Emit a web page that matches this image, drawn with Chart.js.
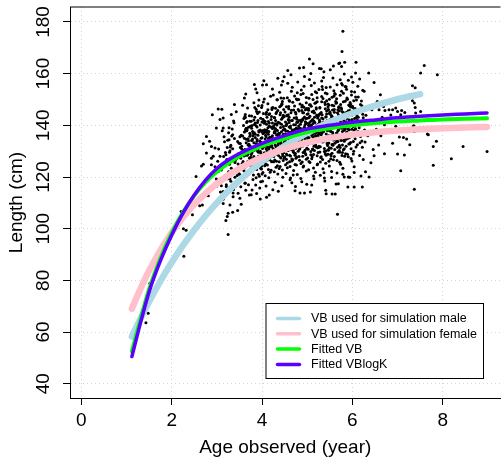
<!DOCTYPE html>
<html>
<head>
<meta charset="utf-8">
<script src="https://cdn.jsdelivr.net/npm/chart.js@4"></script>
<style>
  html, body { margin: 0; padding: 0; background: #fff; overflow: hidden; }
  canvas { display: block; }
</style>
</head>
<body>
<canvas id="growth" width="502" height="459"></canvas>
<script>
// Axis ticks
const xTicks = [0, 2, 4, 6, 8];
const yTicks = [40, 60, 80, 100, 120, 140, 160, 180];

// Growth curves, length (cm) at each age (years)
const curveAges = [1.12, 1.25, 1.5, 1.75, 2, 2.25, 2.5, 2.75, 3, 3.25, 3.5, 4, 4.5, 5, 5.5, 6, 6.5, 7, 7.5, 8, 8.5, 8.98];
const vbMale = [58.2, 63.0, 71.7, 79.7, 86.9, 93.5, 99.5, 105.0, 110.0, 114.6, 118.7, 126.0, 132.0, 137.1, 141.3, 144.7, 147.6, 150.1, 152.1, null, null, null];
const vbFemale = [69.0, 74.4, 83.7, 91.6, 98.5, 104.3, 109.4, 113.7, 117.4, 120.6, 123.3, 127.7, 130.9, 133.3, 135.1, 136.4, 137.3, 138.0, 138.5, 138.9, 139.2, 139.4];
const fittedVB = [52.5, 61.0, 76.5, 88.5, 98.3, 106.3, 112.8, 118.0, 122.0, 125.3, 128.0, 132.0, 134.9, 137.4, 138.9, 140.0, 140.9, 141.5, 141.9, 142.3, 142.5, 142.7];
const fittedVBlogK = [50.5, 59.5, 75.5, 87.5, 97.5, 106.0, 113.0, 118.8, 123.3, 126.6, 129.1, 133.0, 136.0, 138.6, 140.0, 141.2, 142.1, 142.9, 143.5, 144.0, 144.4, 144.8];

const seriesNames = ['VB used for simulation male', 'VB used for simulation female', 'Fitted VB', 'Fitted VBlogK'];

// Observed fish: [age (year), length (cm)]
const observed = [
[1.43,63.6],[1.48,67.3],[1.52,78.9],
[2.21,106.6],[2.27,89.3],[2.26,100.0],[2.32,99.4],[2.46,105.4],[2.51,99.3],[2.62,108.9],[2.68,109.2],[2.54,120.2],[2.66,124.3],[2.70,132.9],[2.84,133.8],[2.77,135.7],[2.77,129.3],[2.70,124.9],[2.88,124.7],[2.92,128.0],[2.96,131.2],[2.99,119.2],[2.81,112.7],[2.99,116.3],[2.88,127.3],[2.90,144.1],[2.99,139.0],[2.88,131.8],[2.96,124.0],
[3.03,146.3],[3.14,139.0],[3.14,142.8],[3.07,128.0],[3.10,116.6],[3.10,111.2],[3.14,111.4],[3.21,113.1],[3.25,106.0],[3.23,104.7],[3.25,97.7],[3.20,103.2],[3.35,106.4],[3.29,109.2],[3.51,111.8],[3.21,117.0],[3.14,114.4],[3.36,113.8],[3.62,117.6],[3.76,113.1],[3.95,115.7],[4.10,112.2],
[3.03,122.1],[3.17,133.6],[3.08,114.2],[3.22,126.8],[3.12,137.9],[3.01,118.4],[3.19,129.5],[3.06,124.3],[3.14,109.7],[3.24,134.2],[3.10,122.7],[3.04,130.8],[3.21,116.3],[3.15,127.9],[3.07,142.3],[3.18,120.6],[3.02,126.1],[3.13,112.5],[3.23,131.4],[3.09,123.5],[3.16,135.6],[3.05,117.8],[3.20,128.6],[3.11,146.2],[3.24,119.3],
[3.47,125.0],[3.33,135.9],[3.42,116.5],[3.28,129.6],[3.38,141.0],[3.49,121.3],[3.31,132.3],[3.44,127.2],[3.36,112.4],[3.26,137.1],[3.40,125.6],[3.46,133.7],[3.29,119.2],[3.35,130.9],[3.43,145.3],[3.32,123.4],[3.48,129.0],[3.37,115.2],[3.27,134.4],[3.41,126.4],[3.34,138.6],[3.45,120.6],[3.30,131.6],[3.39,148.1],[3.26,122.0],
[3.49,133.1],[3.31,118.4],[3.45,128.3],[3.37,141.7],[3.28,124.9],[3.42,127.8],[3.35,136.4],[3.47,113.7],[3.29,130.2],[3.39,134.9],[3.44,122.7],[3.32,144.2],[3.40,119.9],[3.27,139.1],[3.46,107.0],
[3.53,127.3],[3.67,138.3],[3.58,119.1],[3.72,132.1],[3.62,143.4],[3.51,123.8],[3.69,134.8],[3.56,129.7],[3.64,114.9],[3.74,139.6],[3.60,128.1],[3.54,136.2],[3.71,121.6],[3.65,133.3],[3.57,147.8],[3.68,125.9],[3.52,131.4],[3.63,117.7],[3.73,136.9],[3.59,128.8],[3.66,141.1],[3.55,123.2],[3.70,134.0],[3.61,150.6],[3.74,124.5],
[3.51,135.6],[3.69,120.9],[3.55,130.8],[3.63,144.2],[3.72,127.4],[3.58,130.3],[3.65,138.9],[3.53,116.2],[3.71,132.7],[3.61,137.4],[3.56,125.2],[3.68,146.7],[3.60,122.4],[3.73,141.6],[3.54,109.5],
[3.52,133.0],[3.66,124.4],[3.59,139.9],[3.70,117.0],[3.62,130.6],[3.57,135.9],[3.74,126.7],[3.64,152.1],[3.50,121.1],[3.67,128.4],[3.60,142.6],[3.55,131.9],[3.72,113.0],[3.63,137.8],[3.58,126.0],
[3.97,129.3],[3.83,140.3],[3.92,121.1],[3.78,134.1],[3.88,145.4],[3.99,125.8],[3.81,136.8],[3.94,131.7],[3.86,116.9],[3.76,141.6],[3.90,130.1],[3.96,138.2],[3.79,123.6],[3.85,135.3],[3.93,149.8],[3.82,127.9],[3.98,133.4],[3.87,119.7],[3.77,138.9],[3.91,130.8],[3.84,143.1],[3.95,125.2],[3.80,136.0],[3.89,152.6],[3.76,126.5],
[3.99,137.6],[3.81,122.9],[3.95,132.8],[3.87,146.2],[3.78,129.4],[3.92,132.3],[3.85,140.9],[3.97,118.2],[3.79,134.7],[3.89,139.4],[3.94,127.2],[3.82,148.7],[3.90,124.4],[3.77,143.6],[3.96,111.5],
[3.98,135.0],[3.84,126.4],[3.91,141.9],[3.80,119.0],[3.88,132.6],[3.93,137.9],[3.76,128.7],[3.86,154.1],[3.99,123.1],[3.83,130.4],[3.90,144.6],[3.95,133.9],[3.78,115.0],[3.87,139.8],[3.92,128.0],
[3.99,146.9],[3.81,131.2],[3.94,120.3],[3.85,136.5],[3.97,142.7],[3.79,127.0],[3.89,134.5],[3.83,155.8],[3.96,130.0],[3.88,113.6],
[4.15,130.8],[4.04,141.8],[4.20,122.6],[4.09,135.6],[4.24,146.9],[4.13,127.3],[4.06,138.3],[4.18,133.2],[4.01,118.4],[4.11,143.1],[4.22,131.6],[4.16,139.7],[4.08,125.1],[4.02,136.8],[4.19,151.3],[4.05,129.4],[4.14,134.9],[4.00,121.2],[4.10,140.4],[4.21,132.3],[4.03,144.6],[4.17,126.7],[4.07,137.5],[4.23,154.1],[4.11,128.0],
[4.13,139.1],[4.06,124.4],[4.17,134.3],[4.00,147.7],[4.09,130.9],[4.20,133.8],[4.02,142.4],[4.15,119.7],[4.08,136.2],[4.23,140.9],[4.18,128.7],[4.05,150.2],[4.22,125.9],[4.10,145.1],[4.16,113.0],
[4.14,136.5],[4.03,127.9],[4.21,143.4],[4.07,120.5],[4.24,134.1],[4.19,139.4],[4.11,130.2],[4.01,155.6],[4.12,124.6],[4.04,131.9],[4.22,146.1],[4.17,135.4],[4.09,116.5],[4.00,141.3],[4.20,129.5],
[4.13,148.4],[4.06,132.7],[4.18,121.8],[4.02,138.0],[4.15,144.2],[4.08,128.5],[4.23,136.0],[4.04,157.3],[4.16,131.5],[4.24,115.1],[4.10,137.2],[4.21,126.0],[4.03,149.0],[4.14,122.9],[4.07,141.5],
[4.35,132.3],[4.49,143.3],[4.40,124.1],[4.29,137.1],[4.44,148.4],[4.33,128.8],[4.26,139.8],[4.38,134.7],[4.46,119.9],[4.31,144.6],[4.42,133.1],[4.36,141.2],[4.28,126.6],[4.47,138.3],[4.39,152.8],[4.25,130.9],[4.34,136.4],[4.45,122.7],[4.30,141.9],[4.41,133.8],[4.48,146.1],[4.37,128.2],[4.27,139.0],[4.43,155.6],[4.31,129.5],
[4.33,140.6],[4.26,125.9],[4.37,135.8],[4.45,149.2],[4.29,132.4],[4.40,135.3],[4.47,143.9],[4.35,121.2],[4.28,137.7],[4.43,142.4],[4.38,130.2],[4.25,151.7],[4.42,127.4],[4.30,146.6],[4.36,114.5],
[4.34,138.0],[4.48,129.4],[4.41,144.9],[4.27,122.0],[4.44,135.6],[4.39,140.9],[4.31,131.7],[4.46,157.1],[4.32,126.1],[4.49,133.4],[4.42,147.6],[4.37,136.9],[4.29,118.0],[4.45,142.8],[4.40,131.0],
[4.33,149.9],[4.26,134.2],[4.38,123.3],[4.47,139.5],[4.35,145.7],[4.28,130.0],[4.43,137.5],[4.49,158.8],[4.36,133.0],[4.44,116.6],[4.30,138.7],[4.41,127.5],[4.48,150.5],[4.34,124.4],[4.27,143.0],[4.46,128.3],[4.39,147.2],
[4.52,141.3],[4.61,128.4],[4.73,136.9],[4.56,150.7],[4.67,131.2],[4.50,138.6],[4.70,122.5],[4.58,144.1],[4.64,135.0],[4.54,126.9],[4.72,147.5],[4.60,133.6],[4.66,117.8],[4.53,139.9],[4.69,129.8],[4.57,156.3],[4.74,134.4],[4.62,124.1],[4.51,145.2],[4.68,137.7],[4.55,130.5],[4.71,142.8],[4.63,119.6],[4.59,136.1],[4.65,153.2],
[4.50,127.7],[4.74,140.2],[4.57,132.9],[4.68,148.9],[4.53,121.4],[4.62,137.3],[4.71,131.8],[4.55,143.7],[4.66,126.2],[4.60,139.4],[4.73,114.7],[4.58,134.8],[4.64,159.6],[4.51,130.7],[4.70,145.9],[4.56,123.6],[4.67,138.2],[4.61,133.1],[4.72,151.4],[4.54,128.9],
[4.65,141.9],[4.52,135.5],[4.69,120.8],[4.59,146.4],[4.74,129.1],[4.63,139.0],[4.50,132.2],[4.67,154.7],[4.56,125.4],[4.71,136.4],[4.58,142.3],[4.62,118.9],[4.53,137.9],[4.70,133.3],[4.60,149.6],[4.66,127.0],[4.55,140.6],[4.73,124.8],[4.64,144.9],[4.51,134.0],[4.69,130.3],[4.57,161.2],[4.72,138.4],[4.61,125.9],[4.54,147.2],[4.68,133.9],[4.63,128.1],[4.59,142.0],[4.74,116.3],[4.52,136.7],
[4.77,133.9],[4.88,145.7],[4.96,129.1],[4.80,138.5],[4.91,152.3],[4.76,124.6],[4.99,140.8],[4.84,131.4],[4.93,147.0],[4.79,136.3],[4.86,119.4],[4.97,142.6],[4.82,135.1],[4.90,128.0],[4.75,144.4],[4.94,158.9],[4.85,132.6],[4.98,122.3],[4.81,139.7],[4.89,137.0],[4.78,149.9],[4.95,130.4],[4.87,141.4],[4.83,126.5],[4.92,135.8],
[4.76,143.0],[4.99,117.2],[4.85,138.9],[4.80,130.0],[4.93,155.1],[4.88,134.5],[4.77,127.7],[4.96,146.0],[4.82,141.9],[4.91,123.9],[4.86,136.6],[4.98,150.8],[4.79,132.0],[4.94,139.3],[4.84,113.8],[4.90,144.9],[4.75,136.0],[4.97,128.6],[4.87,153.7],[4.81,134.2],
[4.95,140.1],[4.78,121.0],[4.89,147.8],[4.83,137.4],[4.99,131.1],[4.92,162.4],[4.76,139.0],[4.86,125.2],[4.94,143.2],[4.80,133.5],[4.97,137.8],[4.84,148.3],[4.91,129.5],[4.77,141.2],[4.88,118.2],[4.95,134.9],[4.82,145.5],[4.98,126.9],[4.85,140.4],[4.79,156.8],[4.93,132.8],[4.87,138.1],[4.75,127.3],[4.90,142.1],[4.96,135.4],[4.81,150.0],[4.92,124.3],[4.78,136.8],[4.99,146.5],[4.83,130.7],
[5.02,135.2],[5.14,128.7],[5.21,143.6],[5.07,139.9],[5.18,121.8],[5.04,150.5],[5.11,133.0],[5.24,137.4],[5.00,146.2],[5.16,130.3],[5.09,155.4],[5.22,124.7],[5.05,141.0],[5.13,136.5],[5.19,148.7],[5.01,127.4],[5.23,139.2],[5.10,116.9],[5.15,144.9],[5.06,134.1],[5.20,131.6],[5.08,160.1],[5.17,138.0],[5.03,122.8],[5.12,142.3],
[5.24,129.5],[5.00,137.8],[5.18,153.0],[5.06,125.6],[5.13,140.7],[5.21,134.6],[5.03,145.8],[5.15,119.3],[5.09,139.5],[5.22,149.1],[5.01,132.5],[5.16,143.1],[5.11,127.8],[5.19,136.9],[5.05,157.7],[5.23,131.3],[5.08,141.6],[5.14,123.5],[5.20,146.8],[5.02,138.9],
[5.17,133.7],[5.10,151.9],[5.24,140.3],[5.04,126.0],[5.12,137.1],[5.21,144.0],[5.07,114.2],[5.18,135.9],[5.00,142.7],[5.15,131.9],[5.09,147.4],[5.22,128.2],[5.03,140.0],[5.13,163.8],[5.19,132.1],[5.06,138.3],[5.23,125.0],[5.11,145.3],[5.01,134.3],[5.16,156.4],[5.08,129.9],[5.20,139.8],[5.14,120.4],[5.05,148.0],[5.24,136.2],[5.12,130.8],[5.02,144.5],[5.17,141.1],[5.10,127.1],[5.21,152.6],
[5.27,142.1],[5.38,131.0],[5.46,148.3],[5.30,137.2],[5.41,125.3],[5.26,153.9],[5.49,139.0],[5.34,133.5],[5.43,145.5],[5.29,120.7],[5.36,141.3],[5.47,136.0],[5.32,157.2],[5.40,129.0],[5.25,143.9],[5.44,134.8],[5.35,150.4],[5.48,126.1],[5.31,140.5],[5.39,118.5],[5.28,146.7],[5.45,132.2],[5.37,138.4],[5.33,155.0],[5.42,128.4],
[5.26,136.7],[5.49,144.6],[5.35,123.2],[5.30,139.7],[5.43,149.5],[5.38,133.9],[5.27,162.0],[5.46,130.5],[5.32,142.8],[5.41,114.9],[5.36,137.6],[5.48,147.9],[5.29,131.7],[5.44,141.8],[5.34,126.8],[5.40,152.5],[5.25,135.3],[5.47,140.9],[5.37,121.6],[5.31,145.0],
[5.45,137.9],[5.28,129.7],[5.39,148.8],[5.33,134.0],[5.49,124.3],[5.42,143.3],[5.26,139.3],[5.36,158.5],[5.44,132.9],[5.30,127.5],[5.47,146.1],[5.34,138.8],[5.41,130.1],[5.27,144.3],[5.38,119.6],[5.45,135.7],[5.32,151.2],[5.48,133.2],[5.35,142.5],[5.29,125.8],[5.43,139.4],[5.37,160.7],[5.25,131.4],[5.40,146.4],[5.46,128.8],[5.31,136.4],[5.42,113.5],[5.28,141.5],[5.49,150.1],[5.33,137.0],
[5.52,137.6],[5.63,149.2],[5.71,131.9],[5.55,143.5],[5.66,126.4],[5.51,154.8],[5.74,140.7],[5.59,134.4],[5.68,146.0],[5.54,122.1],[5.61,139.9],[5.72,129.6],[5.57,158.3],[5.65,137.0],[5.50,145.3],[5.69,117.4],[5.60,141.7],[5.73,151.6],[5.56,132.7],[5.64,139.5],[5.53,128.1],[5.70,147.2],[5.62,135.5],[5.58,163.0],[5.67,131.5],
[5.51,144.8],[5.74,124.9],[5.60,139.1],[5.55,150.9],[5.68,133.7],[5.63,141.1],[5.52,127.0],[5.71,145.6],[5.57,136.6],[5.66,155.7],[5.61,130.6],[5.73,142.4],[5.54,119.8],[5.69,138.2],[5.59,147.6],[5.65,134.0],[5.50,139.6],[5.72,125.7],[5.62,152.0],[5.56,137.3],
[5.70,143.0],[5.53,131.1],[5.64,148.5],[5.58,126.7],[5.74,140.1],[5.67,135.0],[5.51,161.5],[5.61,133.1],[5.69,144.1],[5.55,129.2],[5.72,139.0],[5.59,153.4],[5.66,121.5],[5.52,141.9],[5.63,136.2],[5.70,146.9],[5.57,132.3],[5.73,157.6],[5.60,127.9],[5.54,142.9],[5.68,137.9],[5.62,113.4],[5.50,135.9],[5.65,150.3],[5.71,130.3],[5.56,145.9],[5.67,105.6],[5.64,117.3],[5.58,140.4],[5.74,134.7],
[5.77,138.9],[5.88,150.6],[5.96,133.4],[5.80,145.0],[5.91,127.8],[5.76,156.2],[5.99,142.3],[5.84,135.9],[5.93,147.7],[5.79,123.4],[5.86,141.4],[5.97,130.9],[5.82,159.9],[5.90,138.6],[5.75,146.8],[5.94,119.9],[5.85,143.2],[5.98,153.1],[5.81,134.2],[5.89,140.0],[5.78,129.5],[5.95,148.8],[5.87,137.1],[5.83,164.4],[5.92,132.8],
[5.76,146.3],[5.99,126.2],[5.85,140.6],[5.80,152.4],[5.93,135.2],[5.88,142.6],[5.77,128.3],[5.96,147.1],[5.82,138.1],[5.91,157.4],[5.86,131.9],[5.98,143.8],[5.79,121.1],[5.94,139.7],[5.84,149.3],[5.90,135.6],[5.75,141.0],[5.97,127.2],[5.87,154.0],[5.81,139.2],
[5.95,144.4],[5.78,132.4],[5.89,150.1],[5.83,128.0],[5.99,141.8],[5.92,136.5],[5.76,162.8],[5.86,134.6],[5.94,145.7],[5.80,130.5],[5.97,140.5],[5.84,155.0],[5.91,120.0],[5.77,143.4],[5.88,137.4],[5.96,148.2],[5.82,133.8],[5.98,158.7],[5.85,129.0],[5.79,144.0],[5.93,138.3],[5.90,116.1],[5.77,168.6],[5.79,176.4],[5.70,163.9],
[6.02,139.5],[6.13,151.0],[6.21,133.9],[6.05,145.6],[6.16,128.3],[6.01,156.7],[6.24,142.9],[6.09,136.3],[6.18,148.1],[6.04,124.0],[6.11,142.0],[6.22,131.5],[6.07,160.3],[6.15,139.1],[6.00,147.3],[6.19,120.4],[6.10,143.8],[6.23,153.6],[6.06,134.8],[6.14,140.6],[6.03,130.0],[6.20,149.4],[6.12,137.7],[6.08,164.4],[6.17,133.3],
[6.01,146.9],[6.24,126.8],[6.10,141.2],[6.05,152.9],[6.18,135.7],[6.13,143.1],[6.02,128.9],[6.21,147.6],[6.07,138.7],[6.16,157.9],[6.11,132.5],[6.23,144.3],[6.04,121.7],[6.19,140.2],[6.09,149.8],[6.15,136.1],[6.00,141.6],[6.22,116.1],[6.12,155.1],[6.06,139.8],
[6.27,138.2],[6.38,147.4],[6.46,130.6],[6.30,143.9],[6.41,125.5],[6.26,153.2],[6.48,128.2],[6.34,136.0],[6.43,146.0],[6.29,122.0],[6.36,160.3],[6.32,141.3],[6.48,156.6],[6.37,120.0],[6.28,133.5],
[3.63,128.4],[3.91,136.2],[3.74,131.9],[4.05,140.8],[3.68,125.7],[3.97,133.5],[3.82,142.1],[3.61,135.0],[4.08,127.3],[3.79,137.6],[3.88,122.9],[3.70,139.3],[4.01,131.0],[3.94,145.2],[3.66,130.2],[3.85,126.8],[4.03,136.9],[3.72,143.7],[3.99,124.3],[3.77,134.1],[3.64,138.5],[3.92,129.6],[4.07,134.7],[3.81,120.8],[3.69,132.4],[3.96,140.1],[3.75,127.6],[4.09,144.3],[3.87,132.9],[3.62,123.6],
[3.83,137.1],[4.04,129.0],[3.73,135.8],[3.95,126.1],[3.67,141.5],[3.89,133.8],[4.02,121.7],[3.78,139.9],[3.60,129.1],[3.93,137.4],[3.76,124.9],[4.06,132.0],[3.84,146.9],[3.65,134.6],[3.98,128.2],[3.71,130.5],[3.90,141.1],[4.00,135.2],[3.80,127.0],[3.63,143.0],[3.86,130.7],[4.10,138.1],[3.74,136.4],[3.97,123.4],[3.69,128.9],[3.92,147.6],[3.82,133.3],[4.05,125.5],[3.66,137.9],[3.88,131.4],
[4.13,131.4],[4.41,139.2],[4.24,134.9],[4.55,143.8],[4.18,128.7],[4.47,136.5],[4.32,145.1],[4.11,138.0],[4.58,130.3],[4.29,140.6],[4.38,125.9],[4.20,142.3],[4.51,134.0],[4.44,148.2],[4.16,133.2],[4.35,129.8],[4.53,139.9],[4.22,146.7],[4.49,127.3],[4.27,137.1],[4.14,141.5],[4.42,132.6],[4.57,137.7],[4.31,123.8],[4.19,135.4],[4.46,143.1],[4.25,130.6],[4.59,147.3],[4.37,135.9],[4.12,126.6],
[4.33,140.1],[4.54,132.0],[4.23,138.8],[4.45,129.1],[4.17,144.5],[4.39,136.8],[4.52,124.7],[4.28,142.9],[4.10,132.1],[4.43,140.4],[4.26,127.9],[4.56,135.0],[4.34,149.9],[4.15,137.6],[4.48,131.2],[4.21,133.5],[4.40,144.1],[4.50,138.2],[4.30,130.0],[4.13,146.0],[4.36,133.7],[4.60,141.1],[4.24,139.4],[4.47,126.4],[4.19,131.9],[4.42,150.6],[4.32,136.3],[4.55,128.5],[4.16,140.9],[4.38,134.4],
[5.07,133.4],[4.79,141.2],[4.96,136.9],[4.65,145.8],[5.02,130.7],[4.73,138.5],[4.88,147.1],[5.09,140.0],[4.62,132.3],[4.91,142.6],[4.82,127.9],[5.00,144.3],[4.69,136.0],[4.76,150.2],[5.04,135.2],[4.85,131.8],[4.67,141.9],[4.98,148.7],[4.71,129.3],[4.93,139.1],[5.06,143.5],[4.78,134.6],[4.63,139.7],[4.89,125.8],[5.01,137.4],[4.74,145.1],[4.95,132.6],[4.61,149.3],[4.83,137.9],[5.08,128.6],
[4.87,142.1],[4.66,134.0],[4.97,140.8],[4.75,131.1],[5.03,146.5],[4.81,138.8],[4.68,126.7],[4.92,144.9],[5.10,134.1],[4.77,142.4],[4.94,129.9],[4.64,137.0],[4.86,151.9],[5.05,139.6],[4.72,133.2],[4.99,135.5],[4.80,146.1],[4.70,140.2],[4.90,132.0],[5.07,148.0],[4.84,135.7],[4.60,143.1],[4.96,141.4],[4.73,128.4],[5.01,133.9],[4.78,152.6],[4.88,138.3],[4.65,130.5],[5.04,142.9],[4.82,136.4],
[5.13,135.4],[5.41,143.2],[5.24,138.9],[5.55,147.8],[5.18,132.7],[5.47,140.5],[5.32,149.1],[5.11,142.0],[5.58,134.3],[5.29,144.6],[5.38,129.9],[5.20,146.3],[5.51,138.0],[5.44,152.2],[5.16,137.2],[5.35,133.8],[5.53,143.9],[5.22,150.7],[5.49,131.3],[5.27,141.1],[5.14,145.5],[5.42,136.6],[5.57,141.7],[5.31,127.8],[5.19,139.4],[5.46,147.1],[5.25,134.6],[5.59,151.3],[5.37,139.9],[5.12,130.6],
[5.33,144.1],[5.54,136.0],[5.23,142.8],[5.45,133.1],[5.17,148.5],[5.39,140.8],[5.52,128.7],[5.28,146.9],[5.10,136.1],[5.43,144.4],[5.26,131.9],[5.56,139.0],[5.34,153.9],[5.15,141.6],[5.48,135.2],[5.21,137.5],[5.40,148.1],[5.50,142.2],[5.30,134.0],[5.13,150.0],[5.36,137.7],[5.60,145.1],[5.24,143.4],[5.47,130.4],[5.19,135.9],[5.42,154.6],[5.32,140.3],[5.55,132.5],[5.16,144.9],[5.38,138.4],
[6.07,136.4],[5.79,144.2],[5.96,139.9],[5.65,148.8],[6.02,133.7],[5.73,141.5],[5.88,150.1],[6.09,143.0],[5.62,135.3],[5.91,145.6],[5.82,130.9],[6.00,147.3],[5.69,139.0],[5.76,153.2],[6.04,138.2],[5.85,134.8],[5.67,144.9],[5.98,151.7],[5.71,132.3],[5.93,142.1],[6.06,146.5],[5.78,137.6],[5.63,142.7],[5.89,128.8],[6.01,140.4],[5.74,148.1],[5.95,135.6],[5.61,152.3],[5.83,140.9],[6.08,131.6],
[5.87,145.1],[5.66,137.0],[5.97,143.8],[5.75,134.1],[6.03,149.5],[5.81,141.8],[5.68,129.7],[5.92,147.9],[6.10,137.1],[5.77,145.4],[5.94,132.9],[5.64,140.0],[5.86,154.9],[6.05,142.6],[5.72,136.2],[5.99,138.5],[5.80,149.1],[5.70,143.2],[5.90,135.0],[6.07,151.0],[5.84,138.7],[5.60,146.1],[5.96,144.4],[5.73,131.4],[6.01,136.9],[5.78,155.6],[5.88,141.3],[5.65,133.5],[6.04,145.9],[5.82,139.4],
[5.05,165.7],[5.72,164.1],[4.83,162.2],[5.31,161.9],[4.35,158.2],[4.10,155.7],[5.55,113.4],[4.94,113.8],[6.04,116.1],[5.82,120.0],
[6.55,149.2],[6.62,151.8],[6.66,143.1],[6.53,138.5],[6.58,132.4],[6.69,147.3],[6.85,144.0],[6.59,146.0],[6.72,145.7],[6.81,146.0],[6.89,146.0],[6.96,146.7],[7.00,145.4],[7.09,145.7],[7.16,145.0],[7.07,144.1],[6.71,140.2],[6.96,139.6],[7.35,139.6],[6.63,136.0],[7.04,135.5],[7.13,135.3],[7.20,134.7],[7.68,136.4],[7.86,133.8],[6.89,133.1],[7.27,132.5],[7.79,131.8],[8.45,131.8],[6.71,129.0],[7.00,128.9],[7.15,128.5],[8.98,129.9],[8.19,127.1],[7.79,124.5],[7.07,122.4],[7.37,115.3],
[7.59,163.2],[7.51,160.3],[7.88,159.6],[7.33,155.3],[7.39,154.5],[7.33,149.5],[7.37,148.6],[7.39,146.9],[7.40,144.8],[7.51,145.4],[7.36,139.8],[7.37,137.6],[7.66,136.6]
];

const FONT = "'Liberation Sans', Arial, Helvetica, sans-serif";
Chart.defaults.font.family = FONT;
Chart.defaults.color = '#000';

function curvePoints(values) {
  const pts = [];
  curveAges.forEach((a, i) => { if (values[i] != null) pts.push({ x: a, y: values[i] }); });
  return pts;
}

function lineSet(label, values, color, width, order) {
  return {
    label, data: curvePoints(values), showLine: true,
    borderColor: color, backgroundColor: color, borderWidth: width,
    borderCapStyle: 'round', borderJoinStyle: 'round',
    pointRadius: 0, pointHoverRadius: 0,
    cubicInterpolationMode: 'monotone', order
  };
}

// Plot box: top edge of the frame (left and bottom come from the axes)
const frameTop = {
  id: 'frameTop',
  afterDraw(chart) {
    const { ctx, chartArea: a } = chart;
    ctx.save();
    ctx.strokeStyle = '#000';
    ctx.lineWidth = 1;
    ctx.beginPath();
    ctx.moveTo(a.left, a.top);
    ctx.lineTo(a.right, a.top);
    ctx.stroke();
    ctx.restore();
  }
};

// Boxed legend in the lower right of the plot
const boxedLegend = {
  id: 'boxedLegend',
  afterDatasetsDraw(chart) {
    const ctx = chart.ctx;
    const sets = chart.data.datasets.filter(d => d.showLine);
    const L = 266, T = 303.5, R = 483.5, B = 378.5;
    ctx.save();
    ctx.fillStyle = '#fff';
    ctx.fillRect(L, T, R - L, B - T);
    ctx.strokeStyle = '#000';
    ctx.lineWidth = 1;
    ctx.strokeRect(L, T, R - L, B - T);
    ctx.font = '12.5px ' + FONT;
    ctx.textBaseline = 'middle';
    ctx.textAlign = 'left';
    sets.forEach((d, i) => {
      const y = 318.5 + i * 15.3;
      ctx.strokeStyle = d.borderColor;
      ctx.lineWidth = 3.5;
      ctx.lineCap = 'round';
      ctx.beginPath();
      ctx.moveTo(277.5, y);
      ctx.lineTo(299.5, y);
      ctx.stroke();
      ctx.fillStyle = '#000';
      ctx.fillText(d.label, 311, y + 0.5);
    });
    ctx.restore();
  }
};

const gridCommon = {
  color: '#d3d3d3', lineWidth: 1,
  tickColor: '#000', tickLength: 7, tickWidth: 1, drawTicks: true
};

new Chart(document.getElementById('growth'), {
  type: 'scatter',
  data: {
    datasets: [
      {
        label: 'Observed', data: observed.map(([x, y]) => ({ x, y })),
        pointRadius: 1.5, pointHoverRadius: 1.5, pointBackgroundColor: '#000',
        pointBorderWidth: 0, showLine: false, order: 5
      },
      lineSet(seriesNames[0], vbMale, '#add8e6', 6.5, 4),
      lineSet(seriesNames[1], vbFemale, '#ffc0cb', 6.5, 3),
      lineSet(seriesNames[2], fittedVB, '#00ff00', 4, 2),
      lineSet(seriesNames[3], fittedVBlogK, '#5a00ff', 3.5, 1)
    ]
  },
  options: {
    responsive: false, animation: false, devicePixelRatio: 1, events: [],
    layout: { padding: { top: 7, left: 0, right: 0, bottom: 0 } },
    plugins: { legend: { display: false }, tooltip: { enabled: false } },
    scales: {
      x: {
        type: 'linear', min: -0.25, max: 9.278,
        afterBuildTicks: s => { s.ticks = xTicks.map(v => ({ value: v })); },
        afterFit: s => { s.height = 61; s.paddingLeft = 0; s.paddingRight = 0; },
        grid: gridCommon,
        border: { display: true, color: '#000', width: 1, dash: [1, 3] },
        ticks: { font: { size: 19 }, padding: 4, color: '#000', maxRotation: 0, autoSkip: false },
        title: { display: true, text: 'Age observed (year)', font: { size: 19 }, color: '#000', padding: { top: 0, bottom: 0 } }
      },
      y: {
        type: 'linear', min: 34.46, max: 185.8,
        afterBuildTicks: s => { s.ticks = yTicks.map(v => ({ value: v })); },
        afterFit: s => { s.width = 70; s.paddingTop = 0; s.paddingBottom = 0; },
        grid: gridCommon,
        border: { display: true, color: '#000', width: 1, dash: [1, 3] },
        ticks: { font: { size: 19 }, padding: 3, color: '#000', minRotation: 90, maxRotation: 90, crossAlign: 'center', autoSkip: false },
        title: { display: true, text: 'Length (cm)', font: { size: 19 }, color: '#000', padding: { top: 5, bottom: 0 } }
      }
    }
  },
  plugins: [frameTop, boxedLegend]
});
</script>
</body>
</html>
